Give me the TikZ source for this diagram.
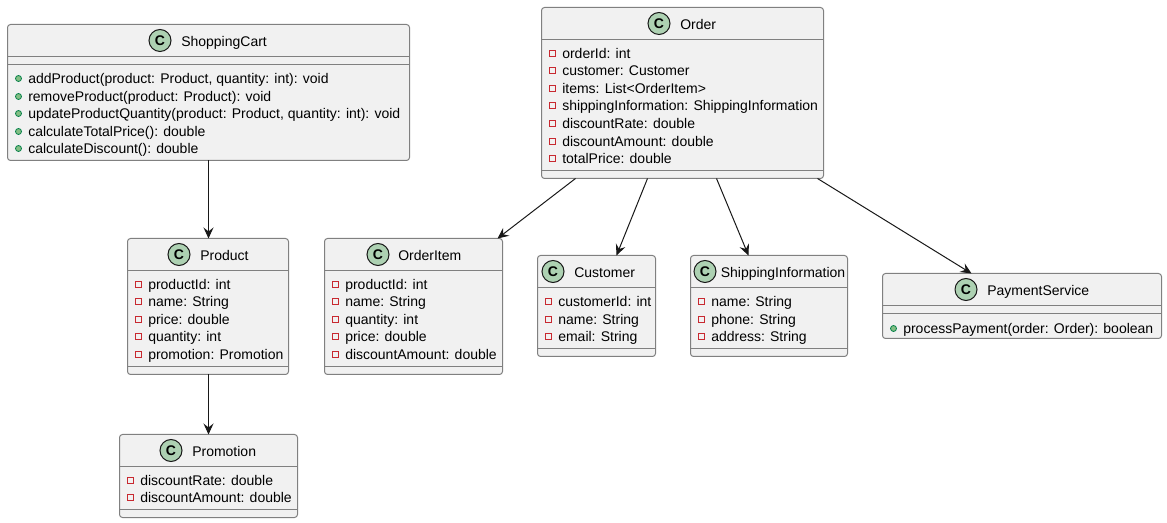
\documentclass[tikz,border=0pt]{standalone}
\usepackage{fontspec}
\setmainfont{Liberation Sans}
\usetikzlibrary{arrows.meta}
\definecolor{boxfill}{HTML}{F1F1F1}
\definecolor{boxline}{HTML}{808080}
\definecolor{iconfill}{HTML}{ADD1B2}
\definecolor{darkline}{HTML}{181818}
\definecolor{privline}{HTML}{C82930}
\definecolor{pubfill}{HTML}{84BE84}
\definecolor{publine}{HTML}{038048}
\def\pxu{0.75pt}
\tikzset{
    classnode/.style={draw=boxline, fill=boxfill, line width=0.75pt, rounded corners=2.25pt, anchor=north west, inner sep=0pt, outer sep=0pt},
    sepline/.style={draw=boxline, line width=0.75pt},
    iconnode/.style={circle, draw=darkline, fill=iconfill, line width=0.75pt, minimum size=16.5pt, inner sep=0pt, font=\fontsize{10.5}{10.5}\selectfont\bfseries},
    labelnode/.style={anchor=base west, inner sep=0pt, text=black, font=\fontsize{10.5}{12}\selectfont},
    privmark/.style={draw=privline, line width=0.95pt},
    pubmark/.style={draw=publine, fill=pubfill, line width=0.6pt},
    conn/.style={draw=darkline, line width=0.75pt, -{Stealth[length=8.25pt, width=7.5pt, inset=3pt]}}
}
% name, left, top, width, height, icon x, title x, title
\newcommand{\classbox}[8]{
    \node [classnode, minimum width=#4*\pxu, minimum height=#5*\pxu] (#1) at (#2, #3) {};
    \node [iconnode] (#1icon) at (#6, #3+16) {C};
    \node [labelnode] (#1title) at (#7, #3+22) {#8};
    \draw [sepline] (#1.north west) ++(0, 32) -- ++(#4, 0);
}
% name, left, list of rows
\newcommand{\fieldrows}[3]{
    \foreach \rowy/\rowtext in {#3} {
        \draw [privmark] (#2+8, \rowy-2.5) rectangle (#2+14, \rowy+3.5);
        \node [labelnode] (#1row\rowy) at (#2+20.5, \rowy+6) {\rowtext};
    }
}
\newcommand{\methodrows}[3]{
    \foreach \rowy/\rowtext in {#3} {
        \draw [pubmark] (#2+11, \rowy+0.5) circle (3);
        \node [labelnode] (#1row\rowy) at (#2+20.5, \rowy+6) {\rowtext};
    }
}
\begin{document}
\begin{tikzpicture}[x=0.75pt, y=-0.75pt]
    \useasboundingbox (0, 0) rectangle (1167, 523);

    \classbox{cart}{7.5}{24.5}{402}{136}{160}{181}{ShoppingCart}
    \draw [sepline] (cart.north west) ++(0, 40) -- ++(402, 0);
    \methodrows{cart}{7.5}{78/{addProduct(product: Product, quantity: int): void},
        96/{removeProduct(product: Product): void},
        113/{updateProductQuantity(product: Product, quantity: int): void},
        131/{calculateTotalPrice(): double},
        148/{calculateDiscount(): double}}

    \classbox{product}{127.5}{238.5}{161}{136}{179}{200}{Product}
    \draw [sepline] (product.south west) ++(0, -8) -- ++(161, 0);
    \fieldrows{product}{127.5}{284/{productId: int}, 301/{name: String}, 319/{price: double},
        336/{quantity: int}, 354/{promotion: Promotion}}

    \classbox{promotion}{119.5}{434.5}{178}{83}{171}{192}{Promotion}
    \draw [sepline] (promotion.south west) ++(0, -8) -- ++(178, 0);
    \fieldrows{promotion}{119.5}{480/{discountRate: double}, 497/{discountAmount: double}}

    \classbox{order}{541.5}{7.5}{282}{171}{659}{680}{Order}
    \draw [sepline] (order.south west) ++(0, -8) -- ++(282, 0);
    \fieldrows{order}{541.5}{53/{orderId: int}, 70/{customer: Customer}, 88/{items: List<OrderItem>},
        105/{shippingInformation: ShippingInformation}, 123/{discountRate: double},
        141/{discountAmount: double}, 158/{totalPrice: double}}

    \classbox{orderitem}{324.5}{238.5}{178}{136}{378}{398}{OrderItem}
    \draw [sepline] (orderitem.south west) ++(0, -8) -- ++(178, 0);
    \fieldrows{orderitem}{324.5}{284/{productId: int}, 301/{name: String}, 319/{quantity: int},
        336/{price: double}, 354/{discountAmount: double}}

    \classbox{customer}{537.5}{255.5}{118}{101}{553}{574}{Customer}
    \draw [sepline] (customer.south west) ++(0, -8) -- ++(118, 0);
    \fieldrows{customer}{537.5}{301/{customerId: int}, 319/{name: String}, 336/{email: String}}

    \classbox{shipping}{690.5}{255.5}{157}{101}{705}{720.5}{ShippingInformation}
    \draw [sepline] (shipping.south west) ++(0, -8) -- ++(157, 0);
    \fieldrows{shipping}{690.5}{301/{name: String}, 319/{phone: String}, 336/{address: String}}

    \classbox{payment}{882.5}{273.5}{279}{65}{966}{987}{PaymentService}
    \draw [sepline] (payment.north west) ++(0, 40) -- ++(279, 0);
    \methodrows{payment}{882.5}{328/{processPayment(order: Order): boolean}}

    \draw [conn] ([xshift=201*\pxu]cart.south west) -- ([xshift=81*\pxu]product.north west);
    \draw [conn] ([xshift=81*\pxu]product.south west) -- ([xshift=89*\pxu]promotion.north west);
    \draw [conn] ([xshift=34*\pxu]order.south west) -- ([xshift=173*\pxu]orderitem.north west);
    \draw [conn] ([xshift=106*\pxu]order.south west) -- ([xshift=79*\pxu]customer.north west);
    \draw [conn] ([xshift=175*\pxu]order.south west) -- ([xshift=58*\pxu]shipping.north west);
    \draw [conn] ([xshift=276*\pxu]order.south west) -- ([xshift=89*\pxu]payment.north west);
\end{tikzpicture}
\end{document}
